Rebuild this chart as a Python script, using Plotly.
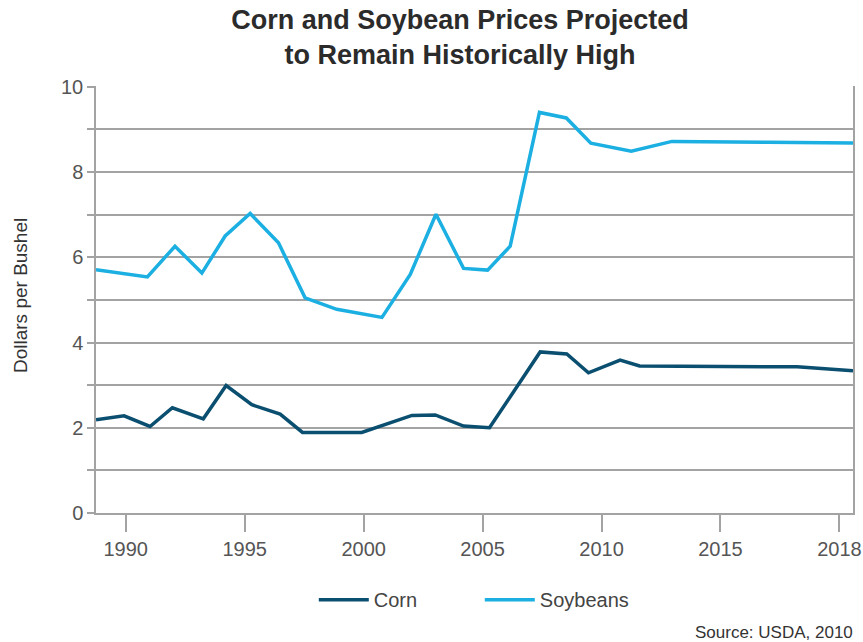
import plotly.graph_objects as go

# Data (x positions on the chart's year scale)
soy_x = [1988.75, 1990.91, 1992.07, 1993.20, 1994.18, 1995.23, 1996.42, 1997.54,
         1998.87, 2000.77, 2001.96, 2003.04, 2004.20, 2005.21, 2006.16, 2007.39,
         2008.52, 2009.55, 2011.25, 2012.96, 2017.0, 2020.57]
soy_y = [5.71, 5.54, 6.26, 5.63, 6.50, 7.03, 6.34, 5.05,
         4.78, 4.59, 5.60, 7.01, 5.74, 5.70, 6.26, 9.40,
         9.27, 8.68, 8.49, 8.72, 8.70, 8.68]

corn_x = [1988.75, 1989.93, 1991.02, 1991.96, 1993.26, 1994.22, 1995.30, 1996.49,
          1997.43, 1999.92, 2002.03, 2003.01, 2004.20, 2005.29, 2007.42, 2008.54,
          2009.45, 2010.78, 2011.60, 2018.22, 2020.57]
corn_y = [2.19, 2.28, 2.03, 2.47, 2.21, 2.99, 2.54, 2.32,
          1.89, 1.89, 2.29, 2.30, 2.04, 2.00, 3.78, 3.73,
          3.29, 3.59, 3.45, 3.43, 3.34]

x_tick_vals = [1990, 1995, 2000, 2005, 2010, 2015, 2020]
x_tick_text = ["1990", "1995", "2000", "2005", "2010", "2015", "2018"]
y_tick_vals = [0, 2, 4, 6, 8, 10]

CORN = "#0B4F70"
SOY = "#1BAFE2"
GRID = "#A3A3A3"
FONT = "Liberation Sans, Arial, sans-serif"

fig = go.Figure()
fig.add_trace(go.Scatter(x=corn_x, y=corn_y, mode="lines", name="Corn",
                         line=dict(color=CORN, width=3.5)))
fig.add_trace(go.Scatter(x=soy_x, y=soy_y, mode="lines", name="Soybeans",
                         line=dict(color=SOY, width=3.5)))

fig.update_layout(
    width=863, height=642,
    margin=dict(l=96, r=10, t=86, b=129, autoexpand=False),
    paper_bgcolor="white", plot_bgcolor="white",
    font=dict(family=FONT, color="#555555"),
    title=dict(text="Corn and Soybean Prices Projected<br>to Remain Historically High",
               x=0.533, xref="container", xanchor="center",
               y=0.955, yref="container", yanchor="top",
               font=dict(family=FONT, size=27, color="#2b2b2b", weight="bold")),
    showlegend=True,
    legend=dict(orientation="h", x=0.507, xanchor="center", y=-0.203, yanchor="middle",
                font=dict(size=20, color="#444444"), itemwidth=50,
                entrywidth=101, entrywidthmode="pixels",
                bgcolor="rgba(0,0,0,0)"),
    xaxis=dict(range=[1988.75, 2020.57], tickvals=x_tick_vals, ticktext=x_tick_text,
               showgrid=False, zeroline=False, showline=True, linecolor=GRID, linewidth=1.5,
               ticks="outside", ticklen=17, tickcolor=GRID, tickwidth=1.5, automargin=False,
               tickfont=dict(size=20, color="#555555")),
    yaxis=dict(range=[0, 10.02], tickvals=list(range(0, 11)),
               ticktext=[str(v) if v in y_tick_vals else "" for v in range(0, 11)],
               showgrid=True, gridcolor=GRID, gridwidth=1.5, zeroline=False,
               showline=True, linecolor=GRID, linewidth=1.5, mirror=True,
               ticks="outside", ticklen=7, tickcolor=GRID, tickwidth=1.5, automargin=False,
               tickfont=dict(size=20, color="#555555")),
    annotations=[
        dict(text="Dollars per Bushel", textangle=-90, xref="paper", yref="paper",
             x=-0.1004, y=0.5105, xanchor="center", yanchor="middle", showarrow=False,
             font=dict(size=19, color="#333333")),
        dict(text="Source: USDA, 2010", xref="paper", yref="paper",
             x=1.0026, y=-0.281, xanchor="right", yanchor="middle", showarrow=False,
             font=dict(size=17, color="#333333")),
    ],
)

fig.write_html("out.html", config={"displayModeBar": False},
               post_script="document.body.style.margin='0';document.body.style.overflow='hidden';")
